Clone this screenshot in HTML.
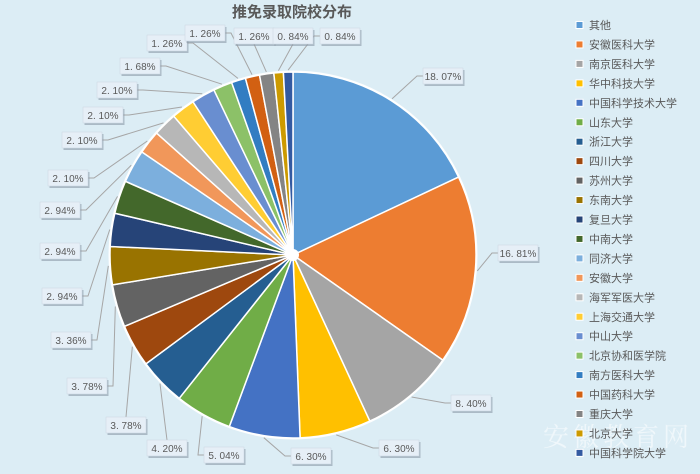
<!DOCTYPE html>
<html><head><meta charset="utf-8"><style>
html,body{margin:0;padding:0;background:#DCEDF5;}
#c{position:relative;width:700px;height:474px;overflow:hidden;background:#DCEDF5;font-family:"Liberation Sans","Noto Sans CJK SC",sans-serif;}
</style></head><body><div id="c">
<svg id="s" width="700" height="474" xmlns="http://www.w3.org/2000/svg">
<text x="292" y="17" text-anchor="middle" font-size="15" font-weight="bold" fill="#595959" font-family="Liberation Sans, Noto Sans CJK SC, sans-serif">推免录取院校分布</text>
<text x="618" y="446" text-anchor="middle" font-size="26" fill="#ffffff" fill-opacity="0.55" font-family="Noto Serif CJK SC, serif" letter-spacing="4">安徽教育网</text>
</svg>
<script>
var v=[18.07,16.81,8.40,6.30,6.30,5.04,4.20,3.78,3.78,3.36,2.94,2.94,2.94,2.10,2.10,2.10,2.10,1.68,1.26,1.26,1.26,0.84,0.84];
var col=["#5B9BD5","#ED7D31","#A5A5A5","#FFC000","#4472C4","#70AD47","#255E91","#9E480E","#636363","#997300","#264478","#43682B","#7CAFDD","#F1975A","#B7B7B7","#FFCD33","#698ED0","#8CC168","#327DC2","#D26012","#848484","#CC9A00","#335AA1"];
var names=["其他","安徽医科大学","南京医科大学","华中科技大学","中国科学技术大学","山东大学","浙江大学","四川大学","苏州大学","东南大学","复旦大学","中南大学","同济大学","安徽大学","海军军医大学","上海交通大学","中山大学","北京协和医学院","南方医科大学","中国药科大学","重庆大学","北京大学","中国科学院大学"];
var lb=[[423,68],[498,245],[451,395],[379,440],[291,448],[204,447],[147,440],[106,417],[67,378],[51,332],[42,288],[40,243],[40,202],[48,170],[62,132],[83,107],[97,82],[120,58],[147,35],[185,25],[234,28],[273,28],[320,28]];
var cx=293,cy=255,r=183,tot=0;v.forEach(function(a){tot+=a});
var s=document.getElementById('s'),NS="http://www.w3.org/2000/svg",h="";
var a0=0;
h+='<circle cx="'+cx+'" cy="'+cy+'" r="'+(r+1.5)+'" fill="#fff" opacity="0.9"/>';
var mids=[];
for(var i=0;i<v.length;i++){var a1=a0+v[i]/tot*2*Math.PI;
var x0=cx+r*Math.sin(a0),y0=cy-r*Math.cos(a0),x1=cx+r*Math.sin(a1),y1=cy-r*Math.cos(a1);
h+='<path d="M'+cx+','+cy+'L'+x0+','+y0+'A'+r+','+r+' 0 '+((a1-a0)>Math.PI?1:0)+' 1 '+x1+','+y1+'Z" fill="'+col[i]+'" stroke="#fff" stroke-width="1.5" stroke-linejoin="round"/>';
mids.push((a0+a1)/2);a0=a1;}
h+='<circle cx="'+cx+'" cy="'+cy+'" r="6" fill="#fff"/>';
for(var i=0;i<v.length;i++){var m=mids[i];var px=cx+(r+2)*Math.sin(m),py=cy-(r+2)*Math.cos(m);
var bx=lb[i][0],by=lb[i][1],w=40,hh=16;var tx,ty=by+hh/2;
if(px>bx+w)tx=bx+w;else if(px<bx)tx=bx;else{tx=bx+w/2;ty=(py>by)?by+hh:by;}
var ex=(tx==bx)?tx-6:(tx==bx+w?tx+6:tx);
h+='<polyline points="'+tx+','+ty+' '+ex+','+ty+' '+px+','+py+'" fill="none" stroke="#A6A6A6" stroke-width="1"/>';}
for(var i=0;i<v.length;i++){var bx=lb[i][0],by=lb[i][1];
h+='<rect x="'+(bx+1.5)+'" y="'+(by+2)+'" width="40" height="16" fill="#8a98a6" opacity="0.6"/>';
h+='<rect x="'+bx+'" y="'+by+'" width="40" height="16" fill="#E6EFF7" stroke="#c9d5e0" stroke-width="0.5"/>';
var t=v[i].toFixed(2).replace('.','. ')+'%';
h+='<text x="'+(bx+20)+'" y="'+(by+12)+'" text-anchor="middle" font-size="10" fill="#595959" font-family="Liberation Sans, sans-serif">'+t+'</text>';}
for(var i=0;i<names.length;i++){var y=25+i*19.45;
h+='<rect x="576" y="'+(y-3.5)+'" width="7" height="7" fill="'+col[i]+'" stroke="#fff" stroke-width="1"/>';
h+='<text x="589" y="'+(y+4)+'" font-size="11" fill="#595959" font-family="Liberation Sans, Noto Sans CJK SC, sans-serif">'+names[i]+'</text>';}
s.insertAdjacentHTML('beforeend',h);
</script>
</div></body></html>
